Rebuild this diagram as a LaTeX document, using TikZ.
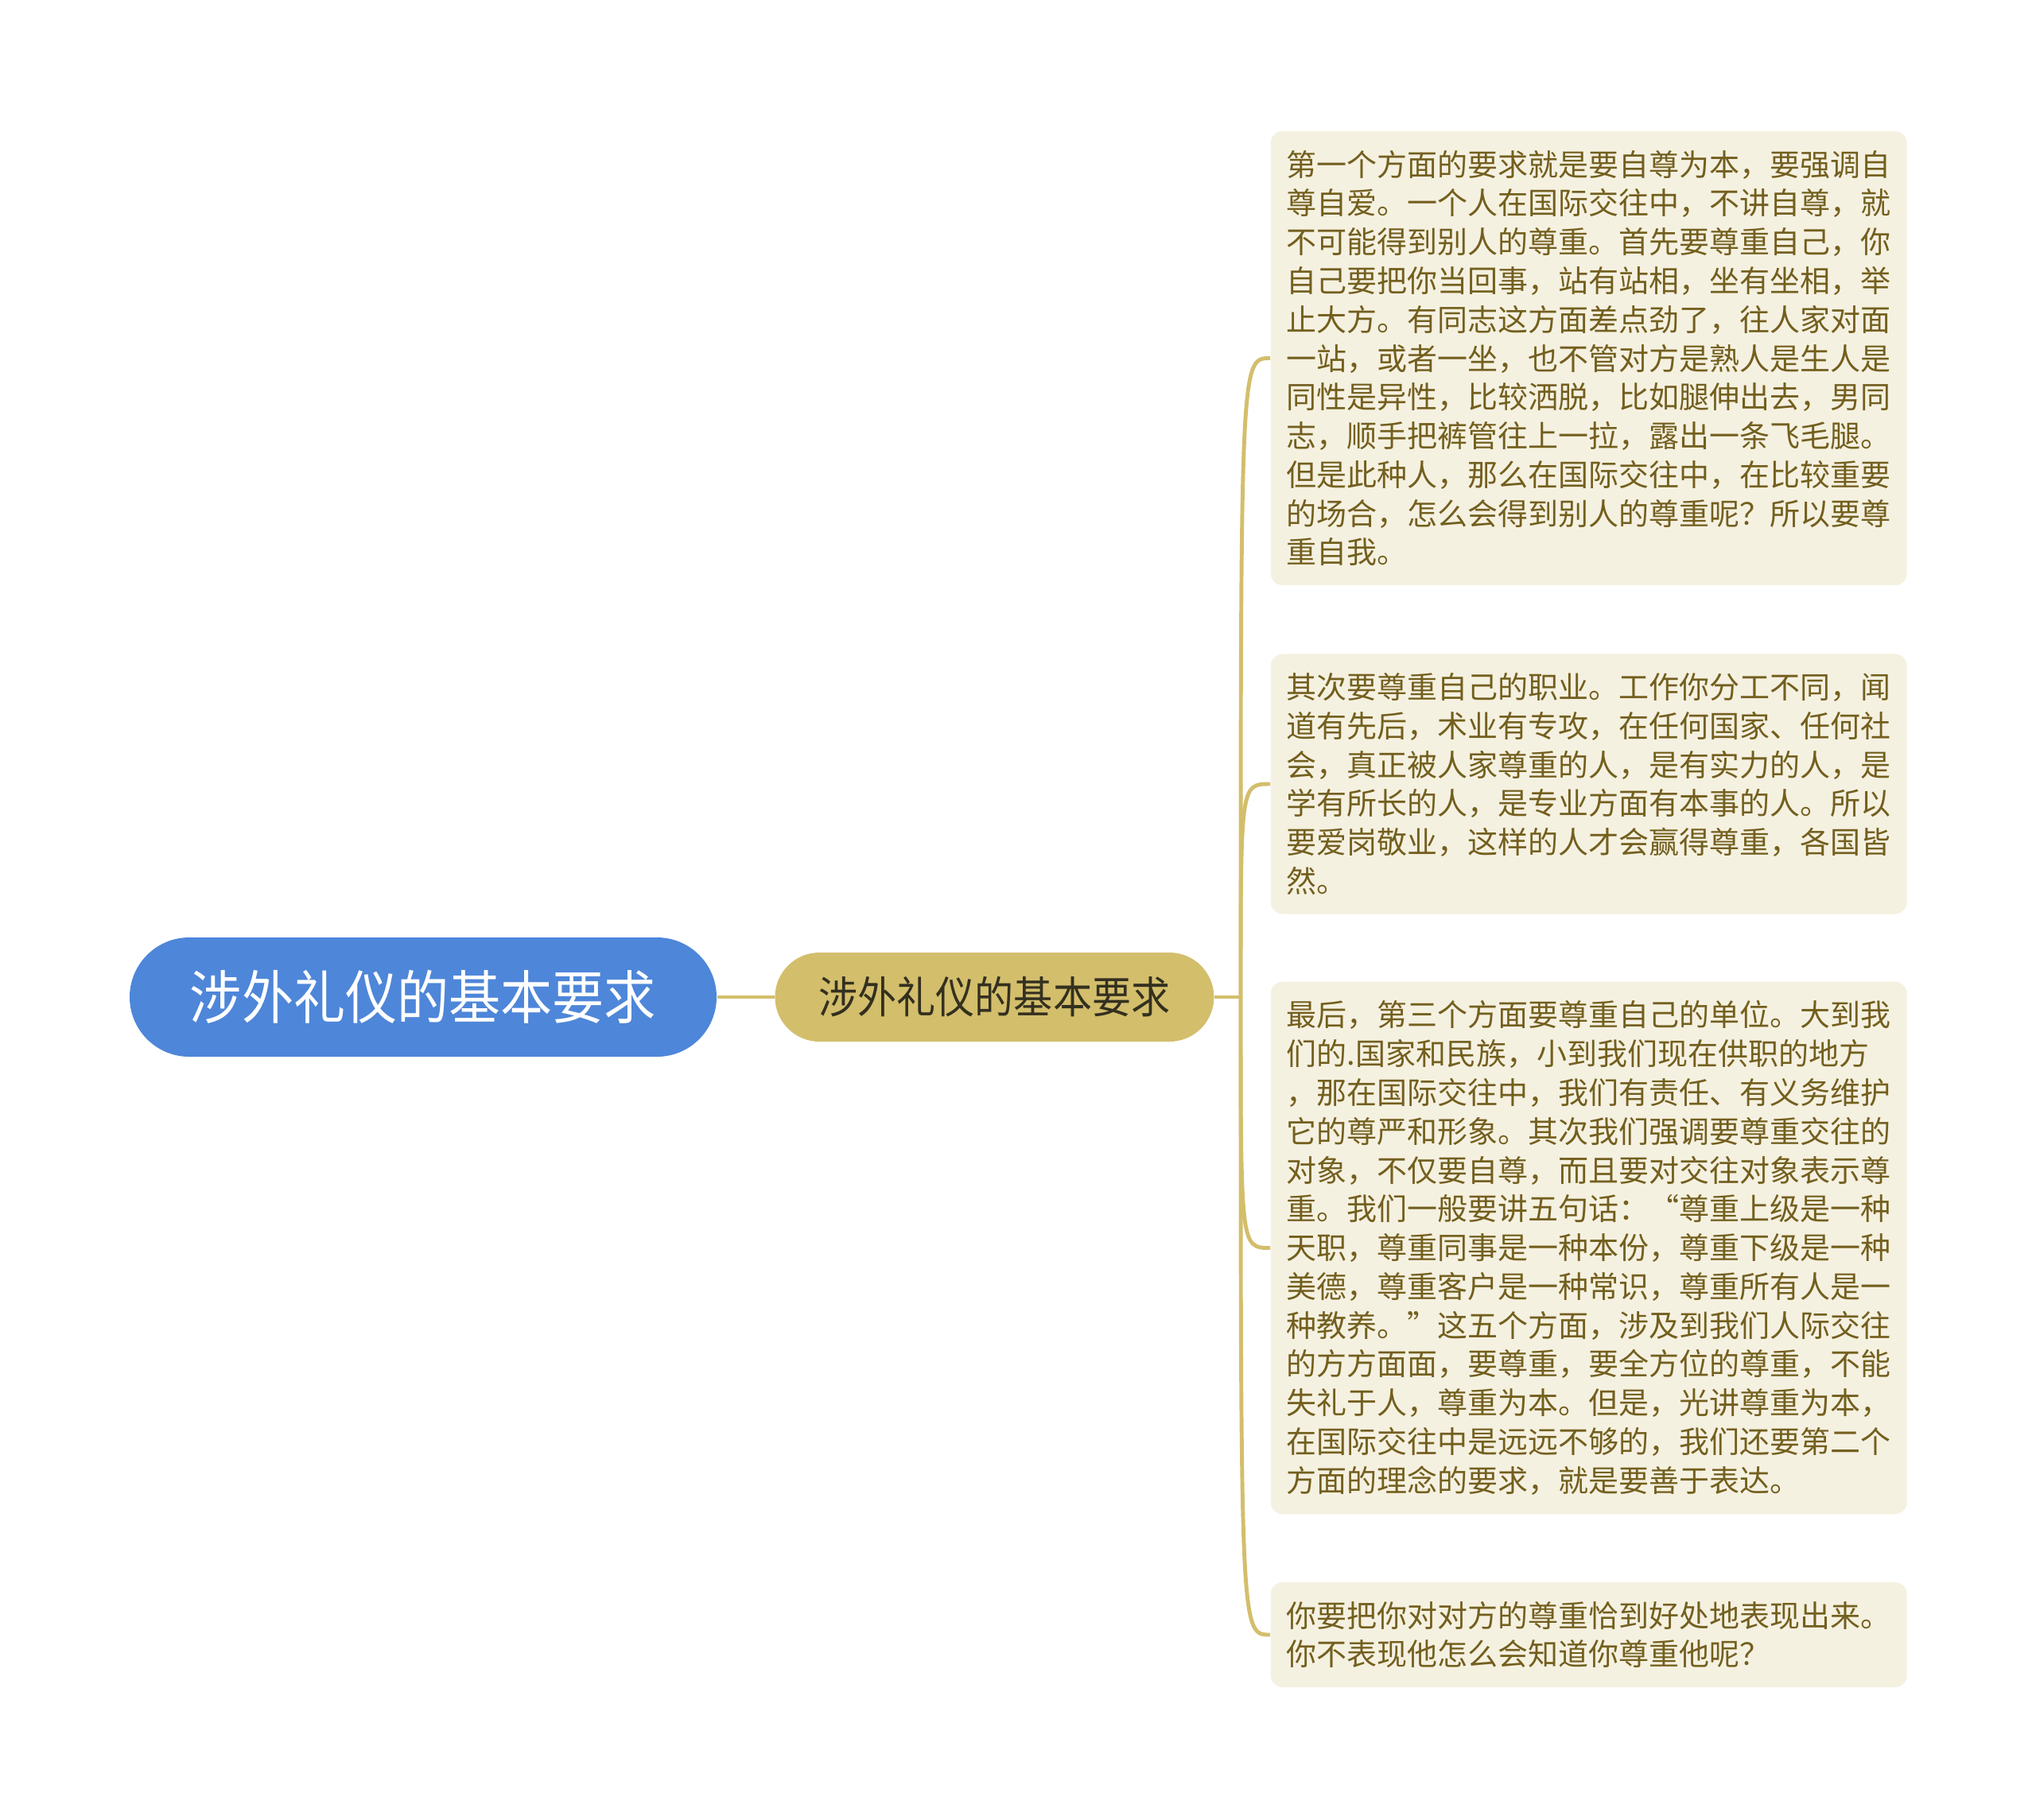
\documentclass[tikz,border=0pt]{standalone}
\usepackage{fontspec}
\setmainfont{Noto Sans CJK SC}
\newfontfamily\condfont[FakeStretch=0.895]{Noto Sans CJK SC}
\usetikzlibrary{positioning}

\definecolor{rootblue}{HTML}{4E86D9}
\definecolor{gold}{HTML}{D3BE6C}
\definecolor{cream}{HTML}{F5F1E1}
\definecolor{leaftext}{HTML}{735F1E}
\definecolor{maintext}{HTML}{33301F}

\tikzset{
  rootnode/.style={fill=rootblue, text=white, rounded corners=0.75cm,
    minimum width=7.38cm, minimum height=1.5cm,
    font=\condfont\fontsize{20.7pt}{24pt}\selectfont},
  mainnode/.style={fill=gold, text=maintext, rounded corners=0.56cm,
    minimum width=5.52cm, minimum height=1.12cm,
    font=\condfont\fontsize{15.6pt}{18pt}\selectfont},
  leaf/.style={fill=cream, text=leaftext, rounded corners=0.15cm,
    text width=7.6cm, align=left, inner xsep=0.2cm, inner ysep=0.24cm,
    anchor=west, font=\fontsize{10.81pt}{13.88pt}\selectfont},
  link/.style={draw=gold, line width=1.4pt},
}

\begin{document}
\begin{tikzpicture}
	\useasboundingbox (0,0) rectangle (25.6,-22.88);

	\node[rootnode] (root) at (5.32,-12.54) {涉外礼仪的基本要求};
	\node[mainnode, right=0.72cm of root] (main) {涉外礼仪的基本要求};

	\node[leaf] (a) at (15.97,-4.505) {第一个方面的要求就是要自尊为本，要强调自\\尊自爱。一个人在国际交往中，不讲自尊，就\\不可能得到别人的尊重。首先要尊重自己，你\\自己要把你当回事，站有站相，坐有坐相，举\\止大方。有同志这方面差点劲了，往人家对面\\一站，或者一坐，也不管对方是熟人是生人是\\同性是异性，比较洒脱，比如腿伸出去，男同\\志，顺手把裤管往上一拉，露出一条飞毛腿。\\但是此种人，那么在国际交往中，在比较重要\\的场合，怎么会得到别人的尊重呢？所以要尊\\重自我。};
	\node[leaf] (b) at (15.97,-9.86) {其次要尊重自己的职业。工作你分工不同，闻\\道有先后，术业有专攻，在任何国家、任何社\\会，真正被人家尊重的人，是有实力的人，是\\学有所长的人，是专业方面有本事的人。所以\\要爱岗敬业，这样的人才会赢得尊重，各国皆\\然。};
	\node[leaf] (c) at (15.97,-15.695) {最后，第三个方面要尊重自己的单位。大到我\\们的.国家和民族，小到我们现在供职的地方\\，那在国际交往中，我们有责任、有义务维护\\它的尊严和形象。其次我们强调要尊重交往的\\对象，不仅要自尊，而且要对交往对象表示尊\\重。我们一般要讲五句话：“尊重上级是一种\\天职，尊重同事是一种本份，尊重下级是一种\\美德，尊重客户是一种常识，尊重所有人是一\\种教养。”这五个方面，涉及到我们人际交往\\的方方面面，要尊重，要全方位的尊重，不能\\失礼于人，尊重为本。但是，光讲尊重为本，\\在国际交往中是远远不够的，我们还要第二个\\方面的理念的要求，就是要善于表达。};
	\node[leaf] (d) at (15.97,-20.56) {你要把你对对方的尊重恰到好处地表现出来。\\你不表现他怎么会知道你尊重他呢？};

	\coordinate (hub) at (15.6,-12.54);
	\draw[link] (root.east) -- (main.west);
	\draw[link] (main.east) -- (hub);
	\foreach \n in {a,b,c,d}
		\draw[link] (hub) .. controls (hub |- \n.west) and (hub |- \n.west) .. (\n.west);
\end{tikzpicture}
\end{document}
